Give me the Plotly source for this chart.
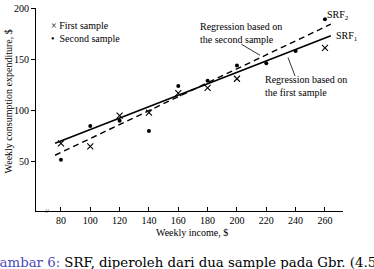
import plotly.graph_objects as go

# Data
income_first = [80, 100, 120, 140, 160, 180, 200, 260]
cons_first = [68, 65, 95, 98, 117, 122, 131, 161]
income_second = [80, 100, 120, 140, 160, 180, 200, 220, 240, 260]
cons_second = [52, 85, 90, 80, 124, 129, 144, 146, 158, 189]

# Regression lines (intercept, slope) and x-extent
srf1 = (25.6, 0.558)
srf2 = (4.7, 0.68)
line_x = [76, 264]

x_ticks = [80, 100, 120, 140, 160, 180, 200, 220, 240, 260]
y_ticks = [50, 100, 150, 200]

SERIF = "Liberation Serif"

fig = go.Figure()
fig.add_trace(go.Scatter(
    x=line_x, y=[srf1[0] + srf1[1] * v for v in line_x], mode="lines",
    line=dict(color="black", width=1.6), showlegend=False, hoverinfo="skip"))
fig.add_trace(go.Scatter(
    x=line_x, y=[srf2[0] + srf2[1] * v for v in line_x], mode="lines",
    line=dict(color="black", width=1.4, dash="6px,4px"), showlegend=False, hoverinfo="skip"))
fig.add_trace(go.Scatter(
    x=income_first, y=cons_first, mode="markers",
    marker=dict(symbol="x-thin", size=6, line=dict(color="black", width=1.1), color="black"),
    showlegend=False))
fig.add_trace(go.Scatter(
    x=income_second, y=cons_second, mode="markers",
    marker=dict(symbol="circle", size=4, color="black"),
    showlegend=False))

fs = 10
anns = [
    dict(x=72, y=183, text="× First sample", xanchor="left", yanchor="middle"),
    dict(x=72, y=170.6, text="•  Second sample", xanchor="left", yanchor="middle"),
    dict(x=173.4, y=175.5, text="Regression based on<br>the second sample", xanchor="left", yanchor="middle", align="left"),
    dict(x=260, y=192.4, text="SRF<sub>2</sub>", xanchor="left", yanchor="middle"),
    dict(x=266, y=172.5, text="SRF<sub>1</sub>", xanchor="left", yanchor="middle"),
    dict(x=217.7, y=124.2, text="Regression based on<br>the first sample", xanchor="left", yanchor="middle", align="left"),
    dict(x=70.5, y=2, text="//", xanchor="center", yanchor="middle", font=dict(size=7, family=SERIF, color="black")),
]
for a in anns:
    a.setdefault("font", dict(size=fs, family=SERIF, color="black"))
    a.update(xref="x", yref="y", showarrow=False)
    fig.add_annotation(**a)

fig.add_annotation(xref="paper", yref="paper", x=0.508, y=-0.105, text="Weekly income, $",
                   showarrow=False, xanchor="center", yanchor="middle",
                   font=dict(size=fs, family=SERIF, color="black"))
fig.add_annotation(xref="paper", yref="paper", x=-0.091, y=0.54, text="Weekly consumption expenditure, $",
                   showarrow=False, xanchor="center", yanchor="middle", textangle=-90,
                   font=dict(size=fs, family=SERIF, color="black"))
fig.add_annotation(xref="paper", yref="paper", x=-0.158, y=-0.252, xanchor="left", yanchor="middle",
                   text="<span style='color:#4a4ab8'>Gambar 6:</span> SRF, diperoleh dari dua sample pada Gbr. (4.5)",
                   showarrow=False, font=dict(size=13.3, family="DejaVu Serif", color="black"))

fig.add_shape(type="line", xref="x", yref="y", x0=203, y0=164.7, x1=215.7, y1=153.9,
              line=dict(color="black", width=0.8))
fig.add_shape(type="line", xref="x", yref="y", x0=234.8, y0=151.7, x1=239.6, y1=133.7,
              line=dict(color="black", width=0.8))

fig.update_layout(
    width=374, height=269,
    margin=dict(l=36, r=31, t=2, b=58),
    plot_bgcolor="white", paper_bgcolor="white",
    font=dict(family=SERIF, size=fs, color="black"),
    xaxis=dict(range=[63, 272.3], tickvals=x_ticks, ticktext=[str(v) for v in x_ticks],
               ticks="inside", ticklen=4, tickcolor="black",
               showline=True, linecolor="black", linewidth=1, showgrid=False, zeroline=False,
               ticklabeloverflow="allow", tickfont=dict(size=fs, family=SERIF, color="black")),
    yaxis=dict(range=[2, 200], tickvals=y_ticks, ticktext=[str(v) for v in y_ticks],
               ticks="outside", ticklen=4, tickcolor="black",
               showline=True, linecolor="black", linewidth=1, showgrid=False, zeroline=False,
               ticklabeloverflow="allow", tickfont=dict(size=fs, family=SERIF, color="black")),
)

fig.write_html("out.html")
